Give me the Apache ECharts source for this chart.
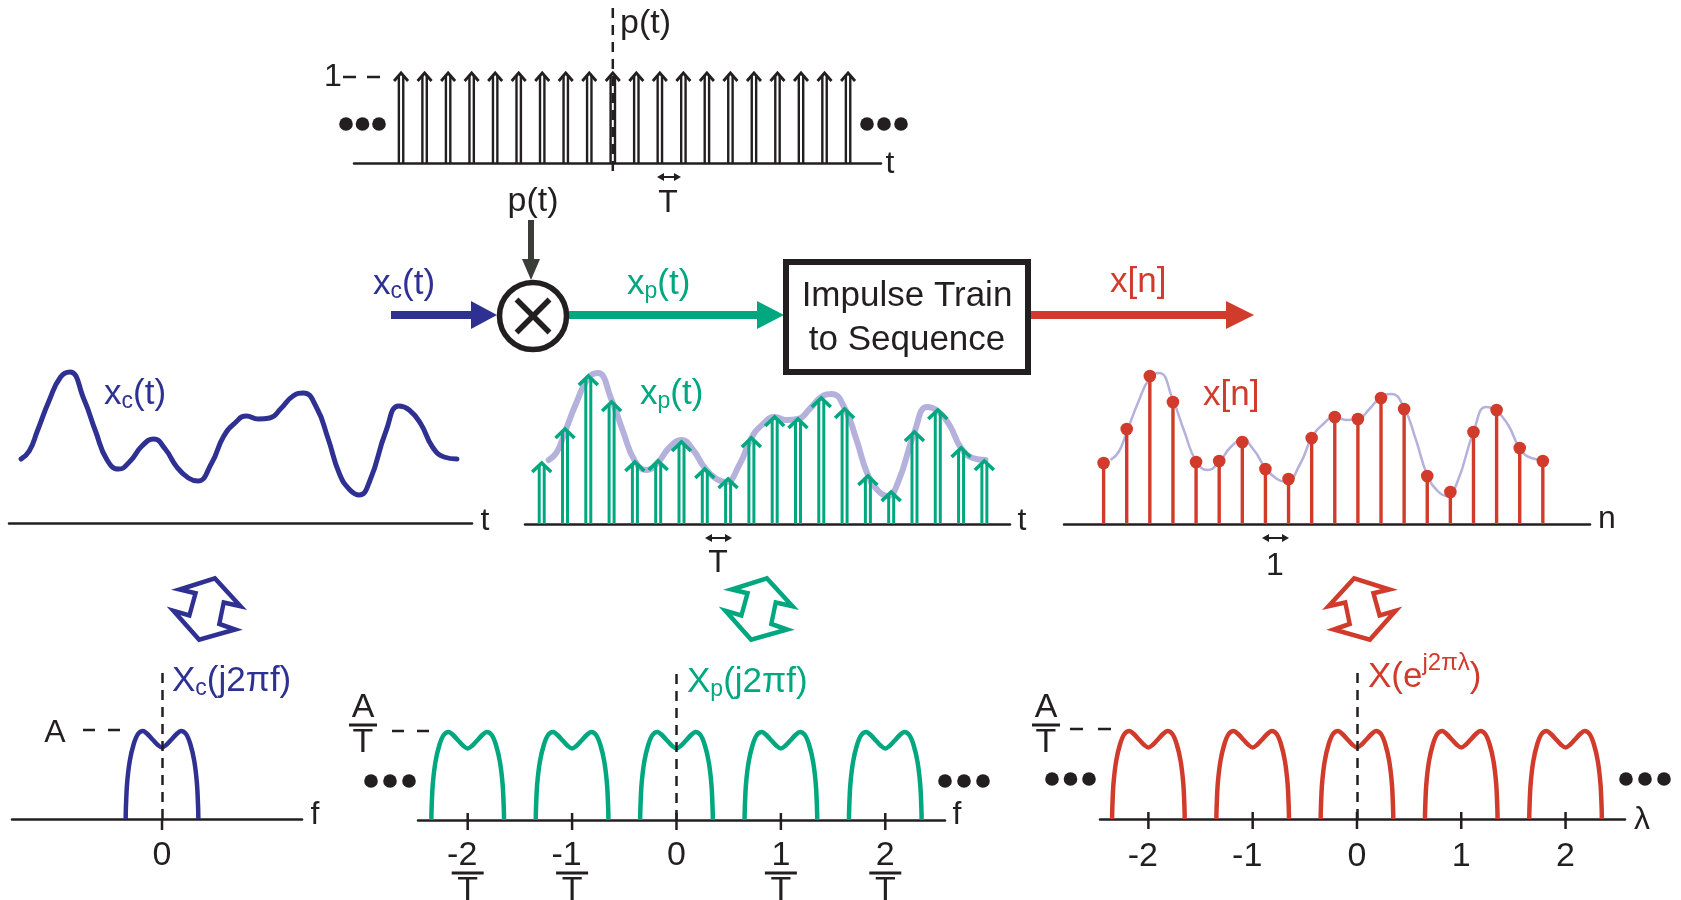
<!DOCTYPE html>
<html>
<head>
<meta charset="utf-8">
<script src="https://cdn.jsdelivr.net/npm/echarts@6/dist/echarts.min.js"></script>
<style>html,body{margin:0;padding:0;background:#fff}#c{width:1681px;height:900px}</style>
</head>
<body>
<div id="c"></div>
<script>
// ---------------- data ----------------
const impulseTimes = [-9, -8, -7, -6, -5, -4, -3, -2, -1, 0, 1, 2, 3, 4, 5, 6, 7, 8, 9, 10];
const impulseValues = [1, 1, 1, 1, 1, 1, 1, 1, 1, 1, 1, 1, 1, 1, 1, 1, 1, 1, 1, 1];

const sampleTimes = [0, 1, 2, 3, 4, 5, 6, 7, 8, 9, 10, 11, 12, 13, 14, 15, 16, 17, 18, 19];
const sampleValues = [0.61, 0.95, 1.48, 1.22, 0.62, 0.63, 0.82, 0.55, 0.45, 0.86, 1.07, 1.05, 1.26, 1.15, 0.48, 0.32, 0.92, 1.14, 0.76, 0.63];

const curveTimes = [0.3, 0.65, 1, 1.5, 2, 2.4, 3, 3.5, 4, 4.5, 5, 5.5, 6, 6.5, 7, 7.5, 7.9, 8.5, 9, 9.5, 10, 10.5, 11, 11.5, 12, 12.45, 13, 13.5, 14, 14.45, 14.85, 15.3, 16, 16.55, 17, 17.5, 18, 18.5, 19.05];
const curveValues = [0.64, 0.72, 0.92, 1.22, 1.46, 1.51, 1.24, 0.92, 0.63, 0.54, 0.62, 0.77, 0.84, 0.74, 0.56, 0.45, 0.42, 0.60, 0.86, 1.00, 1.07, 1.04, 1.05, 1.15, 1.27, 1.30, 1.16, 0.85, 0.49, 0.33, 0.28, 0.42, 0.92, 1.17, 1.13, 0.99, 0.76, 0.66, 0.64];

const shapeFreq = [-0.348, -0.346, -0.335, -0.309, -0.271, -0.230, -0.182, -0.140, -0.086, -0.040, 0, 0.040, 0.086, 0.140, 0.182, 0.230, 0.271, 0.309, 0.335, 0.346, 0.348];
const shapeMag = [0, 0.11, 0.35, 0.58, 0.75, 0.85, 0.88, 0.85, 0.79, 0.74, 0.715, 0.74, 0.79, 0.85, 0.88, 0.85, 0.75, 0.58, 0.35, 0.11, 0];

const replicaShifts = [-2, -1, 0, 1, 2];
const baseTicks = [0];
const baseTickText = ['0'];
const freqTicks = [-2, -1, 0, 1, 2];
const freqTickNumer = ['-2', '-1', '0', '1', '2'];
const lambdaTicks = [-2, -1, 0, 1, 2];
const lambdaTickText = ['-2', '-1', '0', '1', '2'];

// ---------------- style ----------------
const FONT = '"Liberation Sans", Arial, Helvetica, sans-serif';
const INK = '#231f20', BLUE = '#2e3192', GREEN = '#00a77f', RED = '#d13b2c', LAV = '#b4b2dd', GRAY = '#3b3d38';

const curve = curveTimes.map((t, i) => [t, curveValues[i]]);
const samples = sampleTimes.map((t, i) => [t, sampleValues[i]]);
const impulses = impulseTimes.map((t, i) => [t, impulseValues[i]]);
const shapeAt = (k) => shapeFreq.map((f, i) => [f + k, shapeMag[i]]);

function impulseRenderer(color, halfGap, lw, hw, hh, hlw) {
  return function (params, api) {
    const b = api.coord([api.value(0), 0]);
    const p = api.coord([api.value(0), api.value(1)]);
    const x = b[0];
    return {
      type: 'group', children: [
        { type: 'line', shape: { x1: x - halfGap, y1: b[1], x2: x - halfGap, y2: p[1] + 2 }, style: { stroke: color, lineWidth: lw } },
        { type: 'line', shape: { x1: x + halfGap, y1: b[1], x2: x + halfGap, y2: p[1] + 2 }, style: { stroke: color, lineWidth: lw } },
        { type: 'polyline', shape: { points: [[x - hw, p[1] + hh], [x, p[1]], [x + hw, p[1] + hh]] }, style: { stroke: color, lineWidth: hlw, fill: 'none' } }
      ]
    };
  };
}
function stemRenderer(params, api) {
  const b = api.coord([api.value(0), 0]);
  const p = api.coord([api.value(0), api.value(1)]);
  return {
    type: 'group', children: [
      { type: 'line', shape: { x1: b[0], y1: b[1], x2: p[0], y2: p[1] }, style: { stroke: RED, lineWidth: 3.4 } },
      { type: 'circle', shape: { cx: p[0], cy: p[1], r: 6.3 }, style: { fill: RED } }
    ]
  };
}
function tickRenderer(up, down) {
  return function (params, api) {
    const c = api.coord([api.value(0), 0]);
    return { type: 'line', shape: { x1: c[0], y1: c[1] - up, x2: c[0], y2: c[1] + down }, style: { stroke: INK, lineWidth: 2.5 } };
  };
}
const zeroLine = {
  silent: true, symbol: 'none', label: { show: false }, animation: false,
  lineStyle: { color: INK, width: 2.5, type: [10, 7] }, emphasis: { disabled: true },
  data: [{ xAxis: 0 }]
};

const labelRich = {
  n: { fontSize: 34, lineHeight: 28, color: INK, fontFamily: FONT },
  p: { width: 11 },
  b: { width: 32, height: 3, lineHeight: 6, backgroundColor: INK },
  d: { fontSize: 34, lineHeight: 30, color: INK, fontFamily: FONT },
  y: { fontSize: 34, lineHeight: 28, color: INK, fontFamily: FONT },
  z: { fontSize: 34, lineHeight: 40, color: INK, fontFamily: FONT }
};

function xAx(grid, min, max, extra) {
  return Object.assign({
    type: 'value', gridIndex: grid, min: min, max: max,
    axisLine: { show: true, onZero: false, lineStyle: { color: INK, width: 2.5 } },
    axisTick: { show: false }, axisLabel: { show: false }, splitLine: { show: false }
  }, extra || {});
}
function yAx(grid, max) {
  return { type: 'value', gridIndex: grid, min: 0, max: max, show: false, splitLine: { show: false } };
}

// ---------------- graphic annotations ----------------
const G = [];
function txt(x, y, text, o) {
  G.push({ type: 'text', x: x, y: y, z: 20, style: Object.assign({ text: text, fill: INK, fontSize: 34, fontFamily: FONT, align: 'center', verticalAlign: 'middle' }, o || {}) });
}
function subLabel(x, y, a, s, b, color) {
  G.push({ type: 'text', x: x, y: y, z: 20, style: {
    text: '{m|' + a + '}{s|' + s + '}{m|' + b + '}', align: 'left', verticalAlign: 'middle', fontFamily: FONT,
    rich: {
      m: { fontSize: 35, lineHeight: 36, fill: color, fontFamily: FONT },
      s: { fontSize: 23, lineHeight: 20, height: 20, verticalAlign: 'bottom', fill: color, fontFamily: FONT }
    } } });
}
function fracLabel(x, y, a) {
  G.push({ type: 'text', x: x, y: y, z: 20, style: {
    text: '{n|' + a + '}\n{b| }\n{d|T}', align: 'center', verticalAlign: 'top', fontFamily: FONT,
    rich: {
      n: { fontSize: 34, lineHeight: 28, fill: INK, fontFamily: FONT },
      b: { width: 28, height: 3, lineHeight: 6, backgroundColor: INK },
      d: { fontSize: 34, lineHeight: 30, fill: INK, fontFamily: FONT }
    } } });
}
function line(x1, y1, x2, y2, color, w, dash) {
  const st = { stroke: color, lineWidth: w };
  if (dash) st.lineDash = dash;
  G.push({ type: 'line', z: 15, shape: { x1: x1, y1: y1, x2: x2, y2: y2 }, style: st });
}
function hArrow(x1, x2, y, w, hl, hh, color) {
  G.push({ type: 'rect', z: 15, shape: { x: x1, y: y - w / 2, width: x2 - hl - x1 + 1, height: w }, style: { fill: color } });
  G.push({ type: 'polygon', z: 15, shape: { points: [[x2 - hl, y - hh / 2], [x2, y], [x2 - hl, y + hh / 2]] }, style: { fill: color } });
}
function dArrow(x1, x2, y) {
  line(x1 + 5, y, x2 - 5, y, INK, 2);
  G.push({ type: 'polygon', z: 15, shape: { points: [[x1, y], [x1 + 7, y - 4], [x1 + 7, y + 4]] }, style: { fill: INK } });
  G.push({ type: 'polygon', z: 15, shape: { points: [[x2, y], [x2 - 7, y - 4], [x2 - 7, y + 4]] }, style: { fill: INK } });
}
function dots(xs, y) {
  xs.forEach(x => G.push({ type: 'circle', z: 15, shape: { cx: x, cy: y, r: 6.8 }, style: { fill: INK } }));
}
const dblArrow = [[-31, -21], [9, -33], [38, -3], [19, -7], [14, 16], [32, 22], [-9, 33], [-38, 2], [-20, 7], [-13, -17]];
function transformArrow(cx, cy, color, flip) {
  G.push({ type: 'polygon', z: 15, x: cx, y: cy, scaleX: flip ? -0.88 : 0.88, scaleY: 0.93, shape: { points: dblArrow },
    style: { fill: '#fff', stroke: color, lineWidth: 4.5, lineJoin: 'miter', strokeNoScale: true } });
}

// top p(t) panel
line(612.8, 8, 612.8, 177, INK, 2.5, [10, 7]);
txt(620, 24, 'p(t)', { align: 'left' });
txt(333, 77, '1', { fontSize: 32 });
line(343, 77, 381, 77, INK, 2.5, [13, 11]);
dots([346, 362.5, 379], 124);
dots([867, 884, 901], 124);
txt(890, 164, 't', { fontSize: 32 });
dArrow(657, 681, 177);
txt(668, 203, 'T', { fontSize: 32 });
txt(533, 202, 'p(t)');

// block diagram
G.push({ type: 'rect', z: 14, shape: { x: 528, y: 220, width: 6, height: 44 }, style: { fill: GRAY } });
G.push({ type: 'polygon', z: 14, shape: { points: [[522, 259], [540, 259], [531, 280]] }, style: { fill: GRAY } });
hArrow(391, 497, 315, 8, 26, 28, BLUE);
hArrow(568, 784, 315, 8, 27, 28, GREEN);
hArrow(1031, 1254, 315, 8, 28, 28, RED);
G.push({ type: 'circle', z: 16, shape: { cx: 533, cy: 316, r: 33.5 }, style: { fill: '#fff', stroke: INK, lineWidth: 5.5 } });
line(516.5, 299.5, 549.5, 332.5, INK, 5.5);
line(549.5, 299.5, 516.5, 332.5, INK, 5.5);
G[G.length - 1].z = 17; G[G.length - 2].z = 17;
G.push({ type: 'rect', z: 16, shape: { x: 786, y: 262, width: 242, height: 110 }, style: { fill: '#fff', stroke: INK, lineWidth: 6 } });
txt(907, 296, 'Impulse Train', { fontSize: 35 });
txt(907, 340, 'to Sequence', { fontSize: 35 });
subLabel(373, 284, 'x', 'c', '(t)', BLUE);
subLabel(627, 284, 'x', 'p', '(t)', GREEN);
txt(1110, 282, 'x[n]', { align: 'left', fill: RED, fontSize: 35 });

// middle row
subLabel(104, 394, 'x', 'c', '(t)', BLUE);
txt(485, 521, 't', { fontSize: 32 });
subLabel(640, 394, 'x', 'p', '(t)', GREEN);
txt(1022, 521, 't', { fontSize: 32 });
dArrow(705, 732, 538);
txt(718, 563, 'T', { fontSize: 32 });
txt(1203, 395, 'x[n]', { align: 'left', fill: RED, fontSize: 35 });
txt(1607, 519, 'n', { fontSize: 32 });
dArrow(1262, 1289, 538);
txt(1275, 566, '1', { fontSize: 32 });

// transform arrows
transformArrow(207, 609, BLUE, false);
transformArrow(759, 609, GREEN, false);
transformArrow(1362, 609, RED, true);

// bottom row
subLabel(172, 681, 'X', 'c', '(j2\u03c0f)', BLUE);
txt(55, 733, 'A', { fontSize: 32 });
line(83, 730, 120, 730, INK, 2.5, [12, 13]);
txt(315, 815, 'f', { fontSize: 32 });

fracLabel(363, 694, 'A');
line(392, 731, 429, 731, INK, 2.5, [12, 13]);
dots([371, 390, 409], 781);
dots([945, 964, 983], 781);
txt(957, 815, 'f', { fontSize: 32 });
subLabel(687, 682, 'X', 'p', '(j2\u03c0f)', GREEN);

fracLabel(1046, 694, 'A');
line(1070, 729, 1111, 729, INK, 2.5, [13, 15]);
dots([1052, 1070.5, 1089], 779);
dots([1626, 1645, 1664], 779);
txt(1642, 820, '\u03bb', { fontSize: 32 });
G.push({ type: 'text', x: 1368, y: 677, z: 20, style: {
  text: '{m|X(e}{s|j2\u03c0\u03bb}{m|)}', align: 'left', verticalAlign: 'middle', fontFamily: FONT,
  rich: {
    m: { fontSize: 35, lineHeight: 50, fill: RED, fontFamily: FONT },
    s: { fontSize: 24, lineHeight: 22, height: 22, verticalAlign: 'top', fill: RED, fontFamily: FONT }
  } } });

// ---------------- chart ----------------
const chart = echarts.init(document.getElementById('c'), null, { renderer: 'canvas' });
const gridBase = { containLabel: false, outerBoundsMode: 'none', show: false };
const option = {
  animation: false,
  backgroundColor: '#fff',
  grid: [
    Object.assign({ left: 354, top: 73, width: 527, height: 90 }, gridBase),
    Object.assign({ left: 9, top: 363, width: 463, height: 160 }, gridBase),
    Object.assign({ left: 525, top: 364, width: 485, height: 160 }, gridBase),
    Object.assign({ left: 1064, top: 364, width: 526, height: 160 }, gridBase),
    Object.assign({ left: 12, top: 667, width: 290, height: 152 }, gridBase),
    Object.assign({ left: 418, top: 667, width: 527, height: 153 }, gridBase),
    Object.assign({ left: 1100, top: 666, width: 525, height: 153 }, gridBase)
  ],
  xAxis: [
    xAx(0, -11, 11.4),
    xAx(1, -0.22, 19.7),
    xAx(2, -0.717, 20.1),
    xAx(3, -1.713, 21.04),
    xAx(4, -1.437, 1.341, { axisLabel: { show: true, customValues: baseTicks, margin: 17, fontFamily: FONT,
      formatter: v => '{z|' + baseTickText[baseTicks.indexOf(Math.round(v))] + '}', rich: labelRich } }),
    xAx(5, -2.476, 2.572, { axisLabel: { show: true, customValues: freqTicks, margin: 22, fontFamily: FONT,
      formatter: v => {
        const s = freqTickNumer[freqTicks.indexOf(Math.round(v))];
        if (s === '0') return '{y|0}';
        const numer = s.charAt(0) === '-' ? '{n|' + s + '}{p| }' : '{n|' + s + '}';
        return numer + '\n{b| }\n{d|T}';
      }, rich: labelRich } }),
    xAx(6, -2.464, 2.57, { axisLabel: { show: true, customValues: lambdaTicks, margin: 18, fontFamily: FONT,
      formatter: v => {
        const s = lambdaTickText[lambdaTicks.indexOf(Math.round(v))];
        return s.charAt(0) === '-' ? '{z|' + s + '}{p| }' : '{z|' + s + '}';
      }, rich: labelRich } })
  ],
  yAxis: [yAx(0, 1), yAx(1, 1.6), yAx(2, 1.6), yAx(3, 1.6), yAx(4, 1.52), yAx(5, 1.53), yAx(6, 1.53)],
  graphic: G,
  series: [
    { type: 'custom', silent: true, xAxisIndex: 0, yAxisIndex: 0, data: impulses, z: 3,
      renderItem: impulseRenderer(INK, 2.2, 2.4, 7, 8, 2.8) },
    { type: 'line', silent: true, xAxisIndex: 1, yAxisIndex: 1, data: curve, smooth: 0.5, symbol: 'none',
      lineStyle: { color: BLUE, width: 5, cap: 'round' } },
    { type: 'line', silent: true, xAxisIndex: 2, yAxisIndex: 2, data: curve, smooth: 0.5, symbol: 'none', z: 1,
      lineStyle: { color: LAV, width: 6, cap: 'round' } },
    { type: 'custom', silent: true, xAxisIndex: 2, yAxisIndex: 2, data: samples, z: 3,
      renderItem: impulseRenderer(GREEN, 2.5, 3, 9.5, 9, 3.6) },
    { type: 'line', silent: true, xAxisIndex: 3, yAxisIndex: 3, data: curve, smooth: 0.5, symbol: 'none', z: 1,
      lineStyle: { color: LAV, width: 2.5 } },
    { type: 'custom', silent: true, xAxisIndex: 3, yAxisIndex: 3, data: samples, z: 3, renderItem: stemRenderer },
    { type: 'line', silent: true, xAxisIndex: 4, yAxisIndex: 4, data: shapeAt(0), smooth: 0.3, symbol: 'none',
      lineStyle: { color: BLUE, width: 4.5 }, markLine: zeroLine },
    { type: 'custom', silent: true, xAxisIndex: 4, yAxisIndex: 4, data: baseTicks.map(v => [v, 0]), renderItem: tickRenderer(0, 11) }
  ].concat(
    replicaShifts.map(k => ({ type: 'line', silent: true, xAxisIndex: 5, yAxisIndex: 5, data: shapeAt(k), smooth: 0.3, symbol: 'none',
      lineStyle: { color: GREEN, width: 4.5 }, markLine: k === 0 ? zeroLine : undefined })),
    [{ type: 'custom', silent: true, xAxisIndex: 5, yAxisIndex: 5, data: freqTicks.map(v => [v, 0]), renderItem: tickRenderer(7, 10) }],
    replicaShifts.map(k => ({ type: 'line', silent: true, xAxisIndex: 6, yAxisIndex: 6, data: shapeAt(k), smooth: 0.3, symbol: 'none',
      lineStyle: { color: RED, width: 4.5 }, markLine: k === 0 ? zeroLine : undefined })),
    [{ type: 'custom', silent: true, xAxisIndex: 6, yAxisIndex: 6, data: lambdaTicks.map(v => [v, 0]), renderItem: tickRenderer(7, 10) }]
  )
};
chart.setOption(option);
</script>
</body>
</html>
